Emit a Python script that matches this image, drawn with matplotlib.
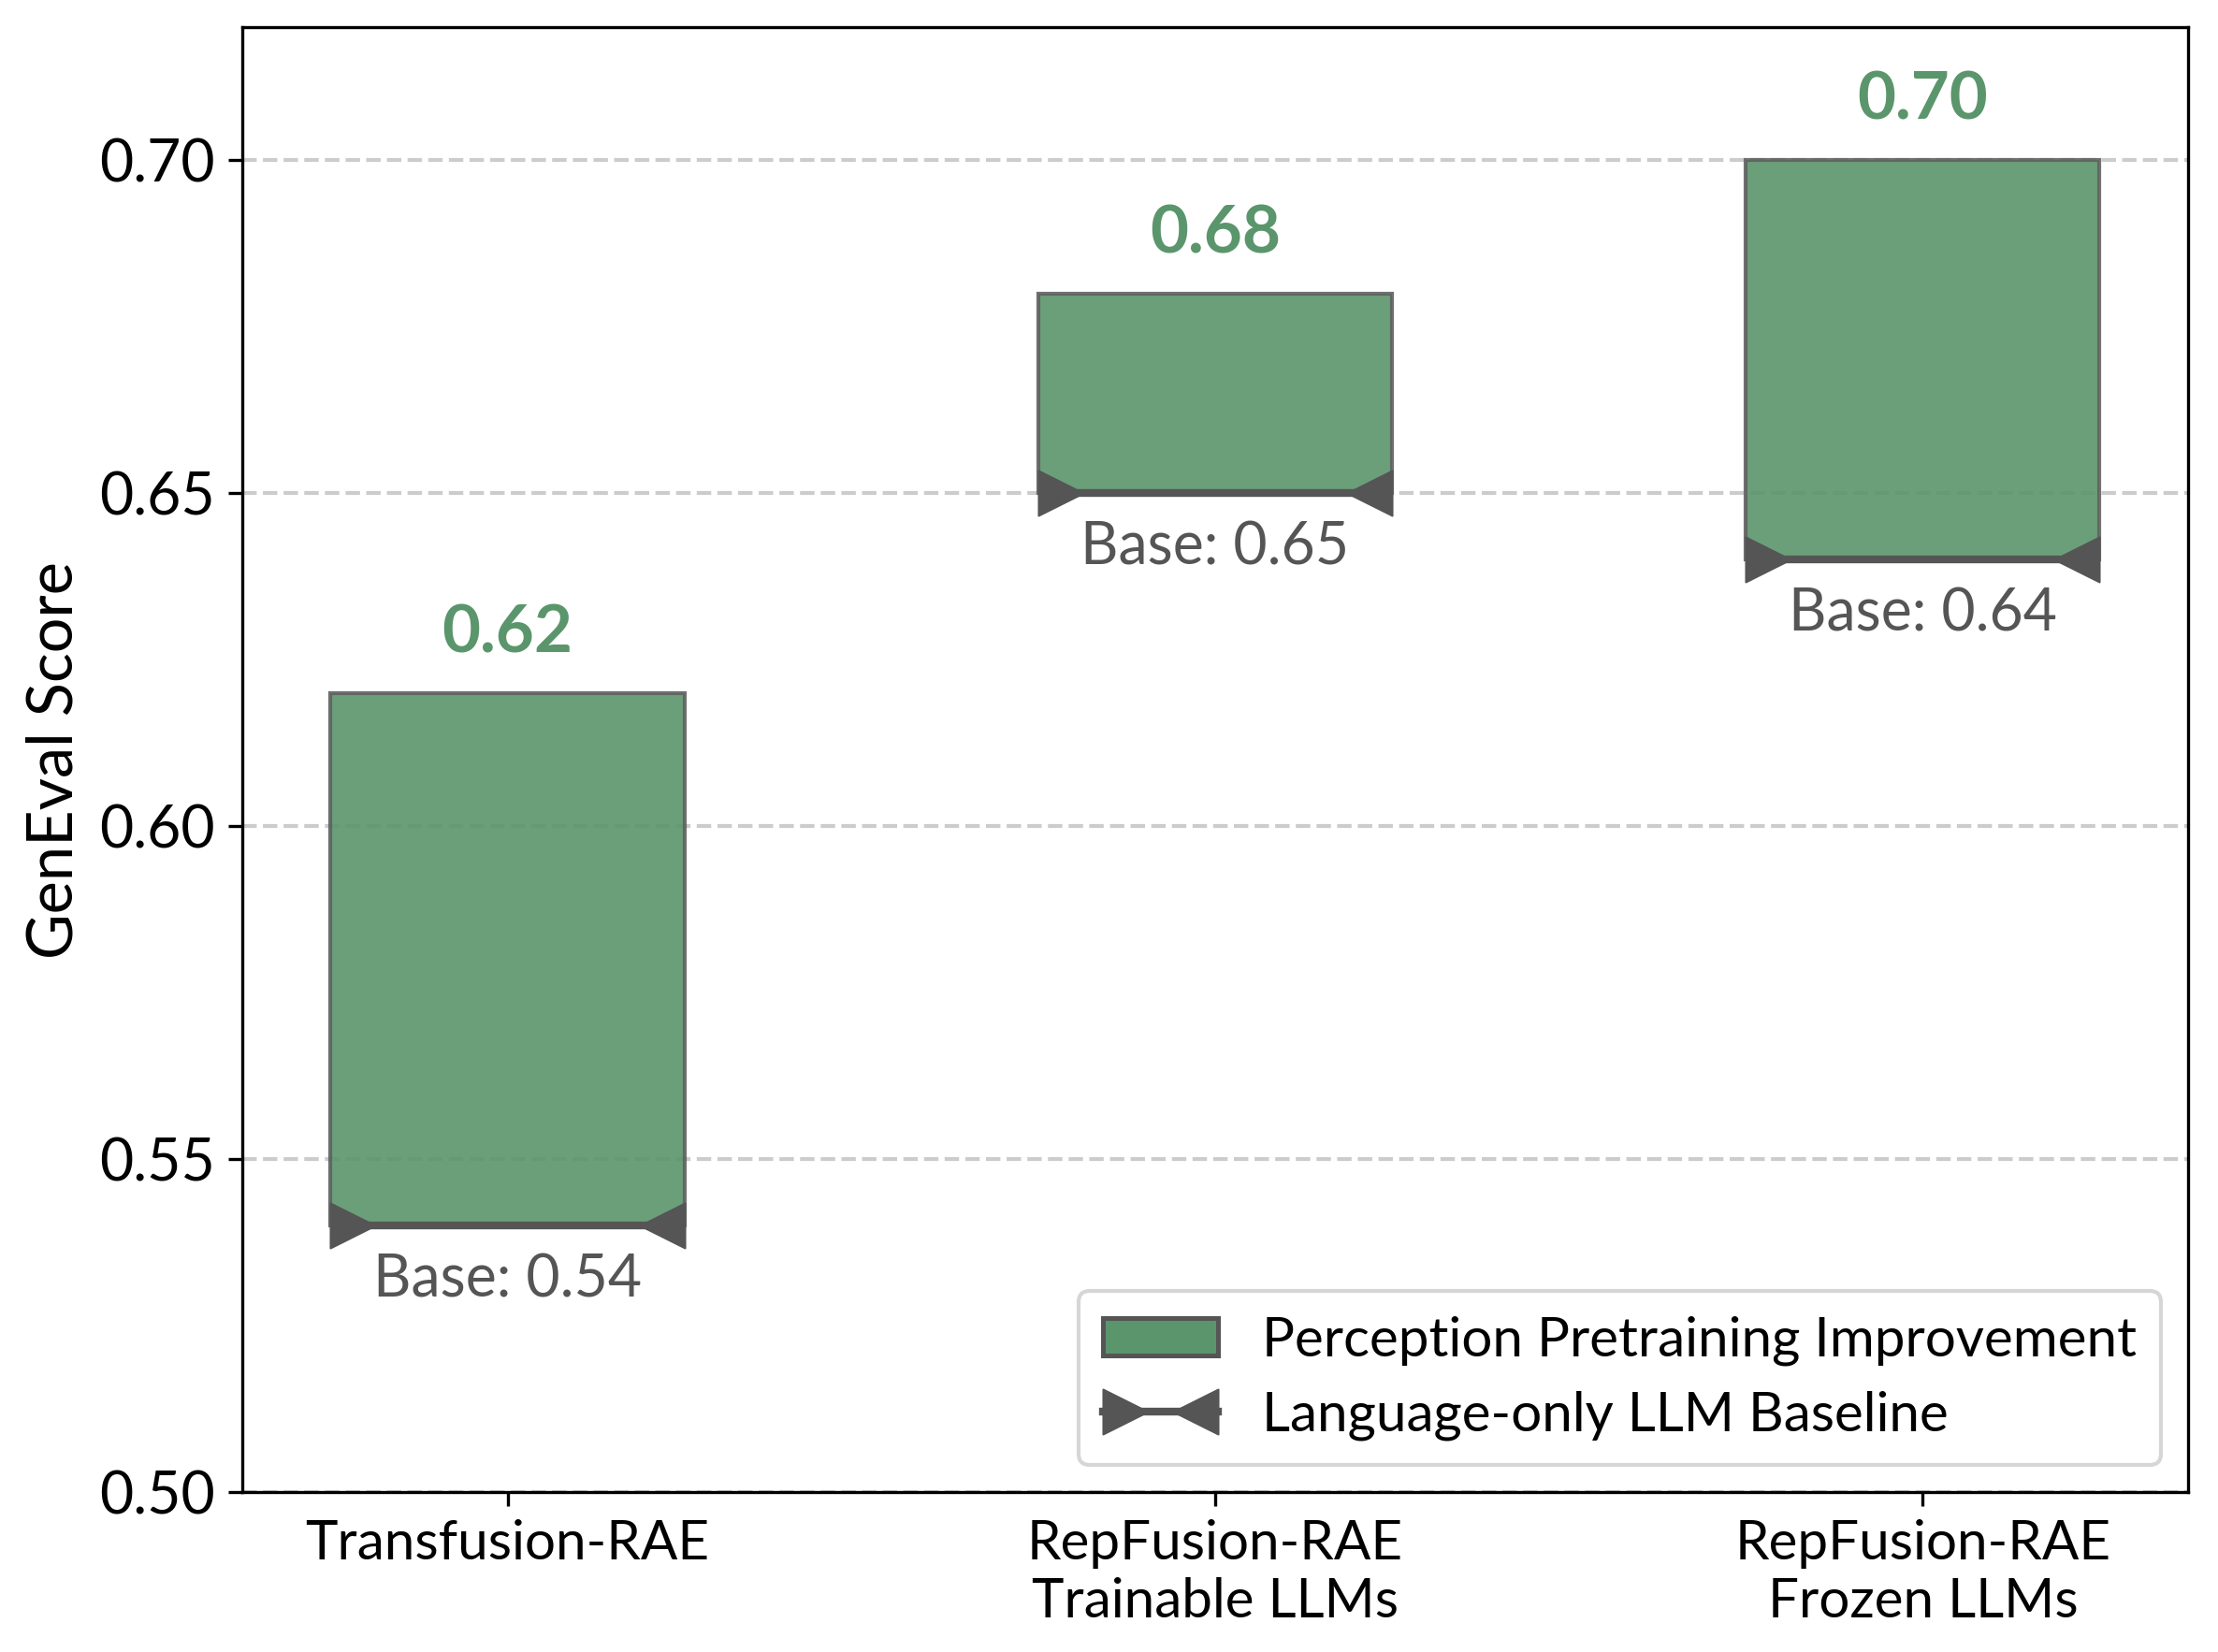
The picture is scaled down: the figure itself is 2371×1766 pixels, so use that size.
import numpy as np
import matplotlib
matplotlib.use("Agg")
import matplotlib.pyplot as plt
from matplotlib.lines import Line2D
from matplotlib.patches import Patch
from matplotlib.path import Path

plt.rcParams['font.family'] = ['Lato', 'DejaVu Sans']

# data
models = ['Transfusion-RAE', 'RepFusion-RAE\nTrainable LLMs', 'RepFusion-RAE\nFrozen LLMs']
base_scores = [0.54, 0.65, 0.64]
final_scores = [0.62, 0.68, 0.70]
yticks = [0.50, 0.55, 0.60, 0.65, 0.70]

green = '#5b956c'
grey = '#555555'

# triangle markers with the flat side on the data point
tri_right = Path([[0, -1], [2, 0], [0, 1], [0, -1]], [1, 2, 2, 79])
tri_left = Path([[0, -1], [-2, 0], [0, 1], [0, -1]], [1, 2, 2, 79])


class BaseHandler:
    def legend_artist(self, legend, orig_handle, fontsize, handlebox):
        x0, y0 = -handlebox.xdescent, -handlebox.ydescent
        w, h = handlebox.width, handlebox.height
        ym = y0 + h / 2
        tr = handlebox.get_transform()
        ln = Line2D([x0, x0 + w], [ym, ym], color=grey, lw=2, transform=tr)
        ml = Line2D([x0], [ym], marker=tri_right, ms=23, color=grey,
                    mec=grey, mew=0.5, transform=tr)
        mr = Line2D([x0 + w], [ym], marker=tri_left, ms=23, color=grey,
                    mec=grey, mew=0.5, transform=tr)
        for a in (ln, ml, mr):
            handlebox.add_artist(a)
        return ln


fig = plt.figure(figsize=(2371 / 300, 1766 / 300), dpi=300)
ax = fig.add_axes([0.1092, 0.0968, 0.8773, 0.8868])

x = np.arange(len(models))
width = 0.5
gains = np.array(final_scores) - np.array(base_scores)

ax.bar(x, gains, width, bottom=base_scores, color=green, alpha=0.9,
       edgecolor='#606060', linewidth=1.0, zorder=2)

for xi, b, f in zip(x, base_scores, final_scores):
    ax.plot([xi - width / 2, xi + width / 2], [b, b], color=grey, lw=2,
            solid_capstyle='butt', zorder=3)
    ax.plot([xi - width / 2], [b], marker=tri_right, ms=23, color=grey,
            mec=grey, mew=0.5, zorder=4)
    ax.plot([xi + width / 2], [b], marker=tri_left, ms=23, color=grey,
            mec=grey, mew=0.5, zorder=4)
    ax.text(xi, f + 0.009, f'{f:.2f}', ha='center', va='center',
            fontsize=17, fontweight='bold', color=green)
    ax.text(xi, b - 0.0082, f'Base: {b:.2f}', ha='center', va='center',
            fontsize=15, color=grey)

ax.set_ylim(0.50, 0.72)
ax.set_xlim(-0.375, 2.375)
ax.set_yticks(yticks)
ax.set_yticklabels([f'{t:.2f}' for t in yticks], fontsize=15)
ax.set_xticks(x)
ax.set_xticklabels(models, fontsize=14)
ax.set_ylabel('GenEval Score', fontsize=16, labelpad=4)
ax.yaxis.grid(True, linestyle='--', color='#cccccc', lw=1, zorder=0)
ax.set_axisbelow(True)

handles = [Patch(facecolor=green, edgecolor=grey, linewidth=1.2),
           Line2D([], [], color=grey)]
labels = ['Perception Pretraining Improvement', 'Language-only LLM Baseline']
ax.legend(handles, labels, loc='lower right', fontsize=14,
          handler_map={Line2D: BaseHandler()}, borderpad=0.45,
          labelspacing=0.45, handletextpad=0.8, handlelength=2.1)

fig.savefig('out.png', dpi=300)
